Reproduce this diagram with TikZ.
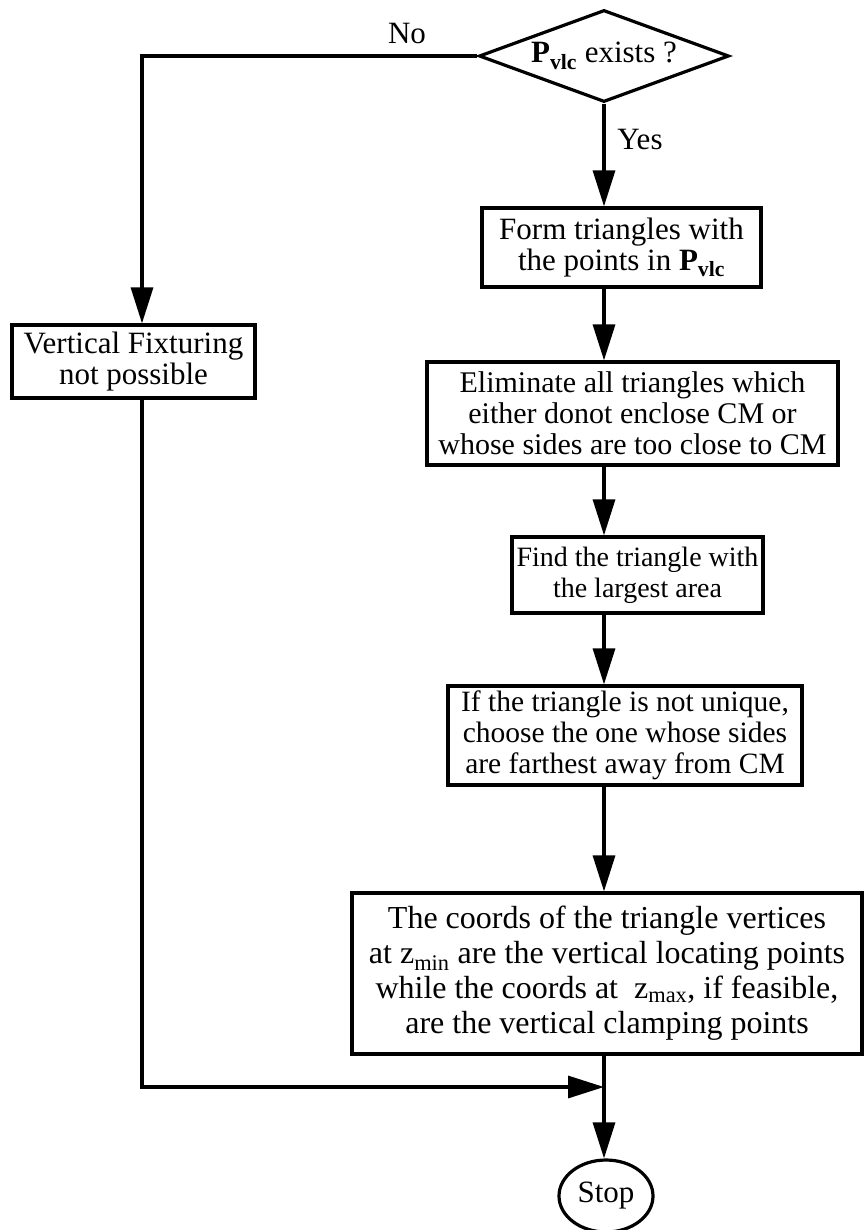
\documentclass[tikz,border=0pt]{standalone}
\usepackage{fontspec}
\setmainfont{Liberation Serif}
\usetikzlibrary{shapes.geometric}
\usetikzlibrary{arrows.meta}
\tikzset{
  txt/.style={font=\fontsize{31}{31}\selectfont, align=center, inner sep=0pt},
  fs/.style={font=\fontsize{#1}{31}\selectfont},
  bigtxt/.style={font=\fontsize{32}{35}\selectfont},
  procbox/.style={txt, draw, line width=3.2pt},
  flow/.style={line width=3.2pt, -{Triangle[length=36pt,width=22pt]}},
  rail/.style={line width=3.2pt}
}
\newcommand{\vlc}{\textbf{P\textsubscript{vlc}}}
\newcommand{\stepnode}[7][]{\node[procbox, #1, minimum width=#5, minimum height=#6] (#2) at ( #3 , #4 ) {#7};}
\newcommand{\tagnode}[4]{\node[txt] (#1) at ( #2 , #3 ) {#4};}
\newcommand{\flowline}[2]{\draw[flow] (#1) -- (#2);}

\begin{document}
\begin{tikzpicture}[x=1pt, y=-1pt]
        \useasboundingbox (0,0) rectangle (864,1230);

        % decision
        \node[procbox, diamond, minimum width=250, minimum height=92] (dec) at (604,56) {\makebox[0pt]{\vlc{} exists ?}};
        \tagnode{no}{407}{34}{No}
        \tagnode{yes}{640}{140}{Yes}

        % main column
        \stepnode{form}{621.5}{247.5}{279}{79}{Form triangles with\\the points in \vlc}
        \stepnode[fs=30]{elim}{632.5}{413.5}{411}{103}{Eliminate all triangles which\\either donot enclose CM or\\whose sides are too close to CM}
        \stepnode[fs=28]{find}{637.5}{575}{251}{76}{Find the triangle with\\the largest area}
        \stepnode[fs=29.5]{pick}{625}{735.5}{354}{99}{If the triangle is not unique,\\choose the one whose sides\\are farthest away from CM}
        \stepnode[bigtxt]{coords}{607}{973.5}{510}{161}{The coords of the triangle vertices\\at z\textsubscript{min} are the vertical locating points\\while the coords at \ z\textsubscript{max}, if feasible,\\are the vertical clamping points}
        \node[procbox, ellipse, minimum width=94, minimum height=72] (stop) at (606,1196) {Stop};

        % left branch
        \stepnode{fail}{133.5}{361.5}{243}{73}{Vertical Fixturing\\not possible}
        \coordinate (leftrail) at (142,56);
        \coordinate (join) at (604,1087);

        % connectors
        \flowline{dec.south}{dec.south |- form.north}
        \flowline{dec.south |- form.south}{dec.south |- elim.north}
        \flowline{dec.south |- elim.south}{dec.south |- find.north}
        \flowline{dec.south |- find.south}{dec.south |- pick.north}
        \flowline{dec.south |- pick.south}{dec.south |- coords.north}
        \draw[rail] (dec.south |- coords.south) -- (join);
        \flowline{join}{join |- stop.north}

        \draw[flow] (dec.west) -- (leftrail) -- (leftrail |- fail.north);
        \draw[flow] (leftrail |- fail.south) -- (leftrail |- join) -- (join);

    \end{tikzpicture}
\end{document}
